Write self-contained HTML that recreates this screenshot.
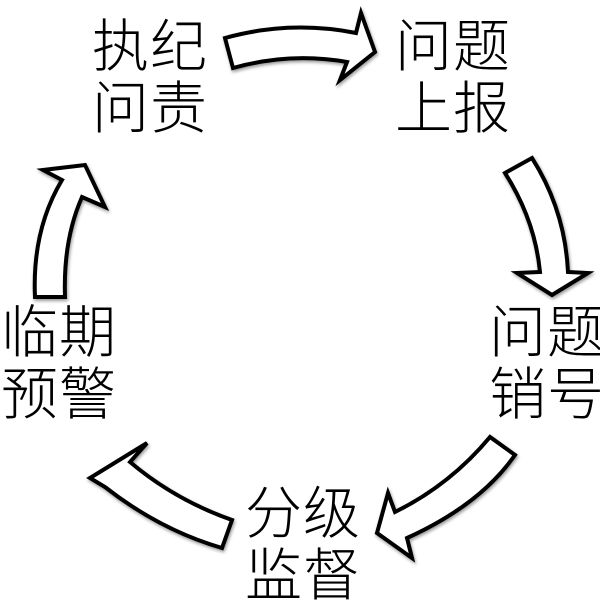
<!DOCTYPE html>
<html><head><meta charset="utf-8"><style>
html,body{margin:0;padding:0;background:#fff;}
body{width:600px;height:611px;position:relative;overflow:hidden;}
.t{position:absolute;font-family:"Liberation Sans","Noto Sans CJK SC",sans-serif;font-weight:300;font-size:57px;line-height:62px;color:#000;white-space:nowrap;letter-spacing:1px;}
svg{position:absolute;left:0;top:0;}
</style></head><body>
<svg width="600" height="611" viewBox="0 0 600 611">
<defs><filter id="s" x="-20%" y="-20%" width="140%" height="140%"><feGaussianBlur in="SourceAlpha" stdDeviation="1.5"/><feOffset dx="1" dy="2"/><feComponentTransfer><feFuncA type="linear" slope="0.4"/></feComponentTransfer><feMerge><feMergeNode/><feMergeNode in="SourceGraphic"/></feMerge></filter></defs>
<g fill="#fff" stroke="#000" stroke-width="4" stroke-linejoin="miter" filter="url(#s)">
<path d="M225,38 Q290,20 356,33 L361,13 L375,52 L340,80 L347,62 Q290,52 233,68 Z"/>
<path d="M505,173 L532,158 Q565,210 568,272 L588,273 L552,295 L517,273 L540,272 Q535,220 505,173 Z"/>
<path d="M490,437 Q450,485 395,512 L388,493 L377,533 L412,558 L407,538 Q480,505 515,455 Z"/>
<path d="M232,520 Q175,500 130,462 L147,443 L90,478 L105,487 Q160,530 222,548 Z"/>
<path d="M35,297 Q32,230 62,180 L43,170 L85,165 L105,207 L82,197 Q63,240 65,297 Z"/>
</g>
</svg>
<div class="t" style="left:92px;top:16px">执纪<br>问责</div>
<div class="t" style="left:395px;top:16px">问题<br>上报</div>
<div class="t" style="left:489px;top:302px">问题<br>销号</div>
<div class="t" style="left:245px;top:483px">分级<br>监督</div>
<div class="t" style="left:1px;top:302px">临期<br>预警</div>
</body></html>
